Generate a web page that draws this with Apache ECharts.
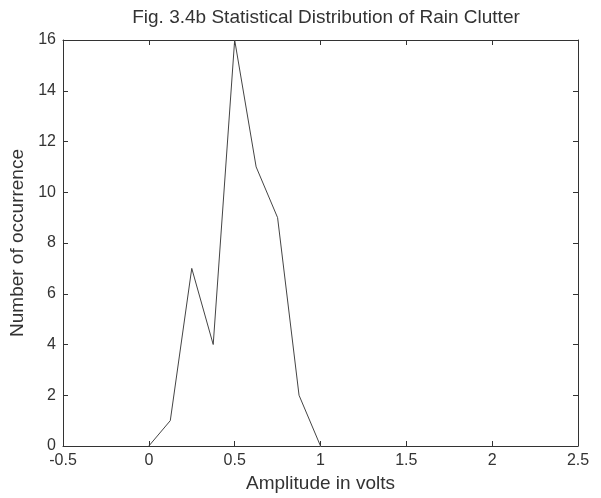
<!DOCTYPE html>
<html>
<head>
<meta charset="utf-8">
<script src="https://cdn.jsdelivr.net/npm/echarts@6/dist/echarts.min.js"></script>
<style>html,body{margin:0;padding:0;background:#fff;}#c{width:601px;height:498px;}</style>
</head>
<body>
<div id="c"></div>
<script>
const titleText = 'Fig. 3.4b Statistical Distribution of Rain Clutter';
const xLabel = 'Amplitude in volts';
const yLabel = 'Number of occurrence';
const amplitudes = [0, 0.125, 0.25, 0.375, 0.5, 0.625, 0.75, 0.875, 1.0];
const counts = [0, 1, 7, 4, 16, 11, 9, 2, 0];
const xMin = -0.5, xMax = 2.5, xStep = 0.5;
const yMin = 0, yMax = 16, yStep = 2;

const font = 'Liberation Sans, Arial, sans-serif';
const axisColor = '#333';
const chart = echarts.init(document.getElementById('c'));
const baseAxis = {
  axisLine: {show: true, onZero: false, lineStyle: {color: axisColor, width: 1}},
  axisTick: {show: true, inside: true, length: 5, lineStyle: {color: axisColor}},
  splitLine: {show: false}
};
chart.setOption({
  backgroundColor: '#fff',
  animation: false,
  title: {
    text: titleText, left: 321, top: 3, textAlign: 'center',
    textStyle: {fontFamily: font, fontSize: 19, fontWeight: 'normal', color: '#333'}
  },
  grid: {left: 63, right: 23, top: 40, bottom: 52, containLabel: false, outerBoundsMode: 'none'},
  xAxis: [
    Object.assign({}, baseAxis, {
      type: 'value', min: xMin, max: xMax, interval: xStep, position: 'bottom',
      name: xLabel, nameLocation: 'middle', nameGap: 27,
      nameTextStyle: {fontFamily: font, fontSize: 19, color: '#333'},
      axisLabel: {fontFamily: font, fontSize: 16, color: '#333', margin: 7}
    }),
    Object.assign({}, baseAxis, {
      type: 'value', min: xMin, max: xMax, interval: xStep, position: 'top',
      axisLabel: {show: false}
    })
  ],
  yAxis: [
    Object.assign({}, baseAxis, {
      type: 'value', min: yMin, max: yMax, interval: yStep, position: 'left',
      name: yLabel, nameLocation: 'middle', nameGap: 33,
      nameTextStyle: {fontFamily: font, fontSize: 19, color: '#333'},
      axisLabel: {fontFamily: font, fontSize: 16, color: '#333', margin: 7}
    }),
    Object.assign({}, baseAxis, {
      type: 'value', min: yMin, max: yMax, interval: yStep, position: 'right',
      axisLabel: {show: false}
    })
  ],
  series: [{
    type: 'line',
    data: amplitudes.map((a, i) => [a, counts[i]]),
    showSymbol: false,
    lineStyle: {color: '#444', width: 1},
    xAxisIndex: 0, yAxisIndex: 0
  }]
});
</script>
</body>
</html>
